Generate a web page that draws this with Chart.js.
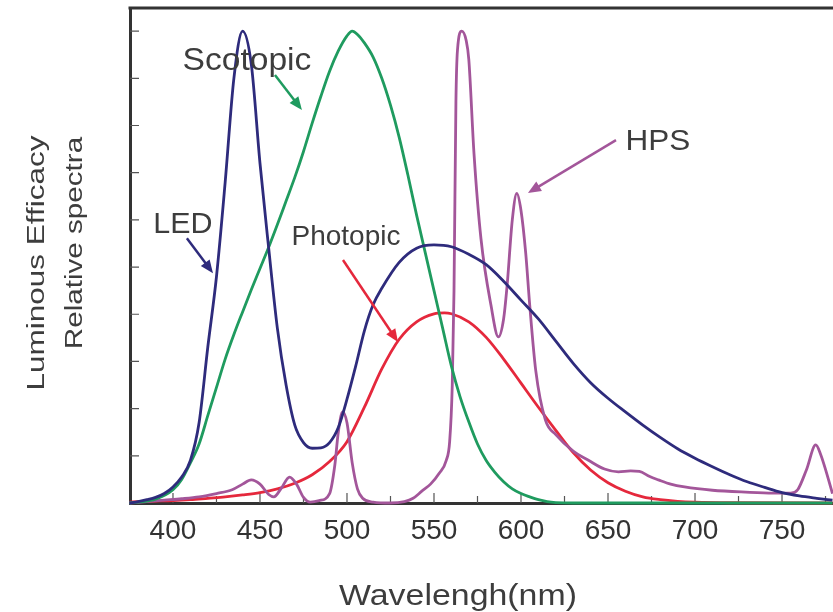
<!DOCTYPE html>
<html>
<head>
<meta charset="utf-8">
<title>Luminous efficacy and relative spectra</title>
<script src="https://cdn.jsdelivr.net/npm/chart.js@4.4.1/dist/chart.umd.min.js"></script>
<style>
  html, body { margin: 0; padding: 0; background: #fff; overflow: hidden; }
  canvas { display: block; }
</style>
</head>
<body>
<canvas id="spectraChart" width="833" height="612"></canvas>
<script>
// visible wavelength window (nm) and value range
const X_MIN = 375.3, X_MAX = 779.3;
const Y_MAX = 1.049;

// LED spectrum
const ledNm  = [375, 380, 385, 390, 395, 400, 405, 410, 415, 420, 425, 430, 435, 440, 445, 450, 455, 460, 465, 470,
                475, 480, 485, 490, 495, 500, 505, 510, 515, 520, 530, 540, 550, 560, 570, 580, 590, 600, 610, 620,
                630, 640, 650, 660, 670, 680, 690, 700, 710, 720, 730, 740, 750, 760, 770, 779];
const ledVal = [0, 0.003, 0.007, 0.012, 0.02, 0.034, 0.055, 0.09, 0.17, 0.33, 0.48, 0.68, 0.9, 1.0, 0.93, 0.72, 0.54, 0.37, 0.25, 0.165,
                0.128, 0.116, 0.117, 0.128, 0.16, 0.22, 0.29, 0.365, 0.42, 0.455, 0.51, 0.54, 0.547, 0.543, 0.527, 0.505, 0.47, 0.43, 0.39, 0.343,
                0.296, 0.255, 0.222, 0.193, 0.165, 0.139, 0.115, 0.095, 0.077, 0.06, 0.045, 0.033, 0.022, 0.015, 0.01, 0.006];

// scotopic efficacy
const scotNm  = [375, 380, 390, 400, 405, 410, 415, 420, 425, 430, 435, 440, 445, 450, 455, 460, 465, 470, 475, 480,
                 485, 490, 495, 500, 503, 506, 510, 515, 520, 525, 530, 535, 540, 545, 550, 555, 560, 565, 570, 575,
                 580, 585, 590, 595, 600, 605, 610, 615, 620, 630, 700, 779];
const scotVal = [0, 0.002, 0.008, 0.028, 0.05, 0.085, 0.125, 0.185, 0.245, 0.305, 0.357, 0.405, 0.452, 0.497, 0.542, 0.59, 0.64, 0.69, 0.745, 0.805,
                 0.862, 0.915, 0.958, 0.99, 1.0, 0.993, 0.975, 0.945, 0.9, 0.843, 0.775, 0.695, 0.61, 0.53, 0.45, 0.37, 0.29, 0.225, 0.172, 0.125,
                 0.09, 0.065, 0.045, 0.03, 0.02, 0.013, 0.007, 0.003, 0.001, 0, 0, 0];

// photopic efficacy
const photNm  = [375, 380, 390, 400, 410, 420, 430, 440, 450, 460, 470, 480, 490, 500, 510, 520, 530, 540, 550, 556,
                 560, 570, 580, 590, 600, 610, 620, 630, 640, 650, 660, 670, 680, 690, 700, 720, 779];
const photVal = [0.002, 0.003, 0.004, 0.005, 0.007, 0.01, 0.013, 0.017, 0.022, 0.03, 0.042, 0.06, 0.088, 0.13, 0.203, 0.284, 0.347, 0.384, 0.401, 0.403,
                 0.401, 0.384, 0.351, 0.305, 0.254, 0.203, 0.154, 0.107, 0.07, 0.043, 0.025, 0.013, 0.007, 0.0035, 0.0017, 0.0005, 0];

// HPS lamp spectrum
const hpsNm  = [375, 385, 395, 405, 415, 425, 434, 440, 445, 450, 455, 458, 462, 467, 471, 475, 479, 484, 490, 493,
                495, 497.5, 500, 503, 506, 509, 515, 525, 533, 538, 543, 548, 553, 557, 559, 560.5, 561.5, 562.6, 563.5, 566,
                568.5, 570, 573, 577, 582.7, 587, 590, 592, 595, 597.6, 600, 602.7, 605, 608.5, 614, 620, 630, 639, 648, 656,
                663, 668, 674, 679, 686, 694, 710, 729, 745, 755, 759, 764, 769.4, 772, 774.6, 779];
const hpsVal = [0, 0.003, 0.006, 0.009, 0.013, 0.02, 0.028, 0.04, 0.049, 0.04, 0.018, 0.013, 0.03, 0.055, 0.04, 0.012, 0.002, 0.005, 0.02, 0.08,
                0.15, 0.193, 0.17, 0.085, 0.03, 0.01, 0.002, 0, 0.003, 0.01, 0.025, 0.04, 0.063, 0.09, 0.13, 0.25, 0.45, 0.85, 0.96, 1.0,
                0.98, 0.94, 0.74, 0.56, 0.42, 0.352, 0.39, 0.46, 0.6, 0.656, 0.62, 0.53, 0.42, 0.28, 0.176, 0.145, 0.11, 0.09, 0.072, 0.066,
                0.068, 0.067, 0.056, 0.049, 0.04, 0.034, 0.027, 0.023, 0.021, 0.021, 0.028, 0.07, 0.123, 0.105, 0.076, 0.02];

const LED_COLOR = '#2e2b7c';
const SCOT_COLOR = '#1f9b5f';
const PHOT_COLOR = '#e5283c';
const HPS_COLOR = '#a3569a';
const TEXT_COLOR = '#3d3d3d';
const FONT = '"Liberation Sans", Arial, Helvetica, sans-serif';

// curve names, placed in data units (centre of text, baseline)
const curveLabels = [
  { text: 'Scotopic', nm: 442.5, val: 0.917, size: 32, stretch: 1.05 },
  { text: 'LED',      nm: 405.7, val: 0.572, size: 29, stretch: 1.05 },
  { text: 'Photopic', nm: 499.4, val: 0.547, size: 28, stretch: 1.0 },
  { text: 'HPS',      nm: 678.7, val: 0.748, size: 30, stretch: 1.05 }
];

// pointer arrows from the names to the curves
const labelArrows = [
  { from: [458.6, 0.907], to: [474.1, 0.833], color: SCOT_COLOR },
  { from: [408.0, 0.561], to: [423.0, 0.487], color: LED_COLOR },
  { from: [497.7, 0.515], to: [529.3, 0.341], color: PHOT_COLOR },
  { from: [654.6, 0.769], to: [604.0, 0.657], color: HPS_COLOR }
];

function toPoints(xs, ys) {
  return xs.map((x, i) => ({ x: x, y: ys[i] }));
}

function drawText(ctx, text, x, y, size, stretch, angle) {
  ctx.save();
  ctx.translate(x, y);
  if (angle) ctx.rotate(angle);
  ctx.scale(stretch || 1, 1);
  ctx.font = size + 'px ' + FONT;
  ctx.fillStyle = TEXT_COLOR;
  ctx.textAlign = 'center';
  ctx.textBaseline = 'alphabetic';
  ctx.fillText(text, 0, 0);
  ctx.restore();
}

function drawArrow(ctx, x1, y1, x2, y2, color) {
  const a = Math.atan2(y2 - y1, x2 - x1);
  const head = 13, half = 5.5;
  const cos = Math.cos(a), sin = Math.sin(a);
  ctx.save();
  ctx.strokeStyle = color;
  ctx.fillStyle = color;
  ctx.lineWidth = 2.5;
  ctx.beginPath();
  ctx.moveTo(x1, y1);
  ctx.lineTo(x2 - head * 0.8 * cos, y2 - head * 0.8 * sin);
  ctx.stroke();
  ctx.beginPath();
  ctx.moveTo(x2, y2);
  ctx.lineTo(x2 - head * cos + half * sin, y2 - head * sin - half * cos);
  ctx.lineTo(x2 - head * cos - half * sin, y2 - head * sin + half * cos);
  ctx.closePath();
  ctx.fill();
  ctx.restore();
}

// frame top line + inward tick marks, then names, arrows and axis titles
const framePlugin = {
  id: 'frame',
  beforeDatasetsDraw(chart) {
    const ctx = chart.ctx;
    const area = chart.chartArea;
    const xs = chart.scales.x, ys = chart.scales.y;
    ctx.save();
    ctx.strokeStyle = '#333';
    ctx.lineWidth = 3;
    ctx.beginPath();
    ctx.moveTo(area.left - 1.5, area.top);
    ctx.lineTo(chart.width, area.top);
    ctx.stroke();

    ctx.lineWidth = 1.2;
    ctx.strokeStyle = '#555';
    ctx.beginPath();
    for (let v = 400; v <= 775; v += 25) {
      const px = xs.getPixelForValue(v);
      const len = v % 50 === 0 ? 10 : 7;
      ctx.moveTo(px, area.bottom);
      ctx.lineTo(px, area.bottom - len);
    }
    for (let i = 1; i <= 10; i++) {
      const py = ys.getPixelForValue(i / 10);
      ctx.moveTo(area.left, py);
      ctx.lineTo(area.left + 9, py);
    }
    ctx.stroke();
    ctx.restore();
  },
  afterDraw(chart) {
    const ctx = chart.ctx;
    const xs = chart.scales.x, ys = chart.scales.y;

    curveLabels.forEach(l => {
      drawText(ctx, l.text, xs.getPixelForValue(l.nm), ys.getPixelForValue(l.val), l.size, l.stretch);
    });
    labelArrows.forEach(a => {
      drawArrow(ctx,
        xs.getPixelForValue(a.from[0]), ys.getPixelForValue(a.from[1]),
        xs.getPixelForValue(a.to[0]), ys.getPixelForValue(a.to[1]), a.color);
    });

    // axis titles
    drawText(ctx, 'Wavelengh(nm)', 458, 605, 30, 1.13);
    drawText(ctx, 'Luminous Efficacy', 44, 263, 23.5, 1.34, -Math.PI / 2);
    drawText(ctx, 'Relative spectra', 82, 243, 23.5, 1.26, -Math.PI / 2);
  }
};

function lineSet(label, xs, ys, color) {
  return {
    label: label,
    data: toPoints(xs, ys),
    borderColor: color,
    borderWidth: 2.8,
    pointRadius: 0,
    fill: false,
    cubicInterpolationMode: 'monotone',
    clip: 4
  };
}

new Chart(document.getElementById('spectraChart'), {
  type: 'line',
  data: {
    datasets: [
      lineSet('LED', ledNm, ledVal, LED_COLOR),
      lineSet('Scotopic', scotNm, scotVal, SCOT_COLOR),
      lineSet('HPS', hpsNm, hpsVal, HPS_COLOR),
      lineSet('Photopic', photNm, photVal, PHOT_COLOR)
    ]
  },
  options: {
    responsive: false,
    animation: false,
    devicePixelRatio: 1,
    layout: { padding: { top: 8, right: 0, left: 0, bottom: 0 } },
    plugins: {
      legend: { display: false },
      tooltip: { enabled: false }
    },
    scales: {
      x: {
        type: 'linear',
        min: X_MIN,
        max: X_MAX,
        afterFit: s => { s.height = 109; },
        grid: { display: false, drawTicks: false },
        border: { display: true, color: '#333', width: 3 },
        ticks: {
          stepSize: 50,
          includeBounds: false,
          autoSkip: false,
          maxRotation: 0,
          padding: 11,
          color: '#333',
          font: { size: 28, family: FONT },
          callback: v => (v % 50 === 0 && v >= 400 && v <= 750) ? String(v) : ''
        }
      },
      y: {
        min: 0,
        max: Y_MAX,
        afterFit: s => { s.width = 130; },
        grid: { display: false, drawTicks: false },
        border: { display: true, color: '#333', width: 3 },
        ticks: { display: false }
      }
    }
  },
  plugins: [framePlugin]
});
</script>
</body>
</html>
